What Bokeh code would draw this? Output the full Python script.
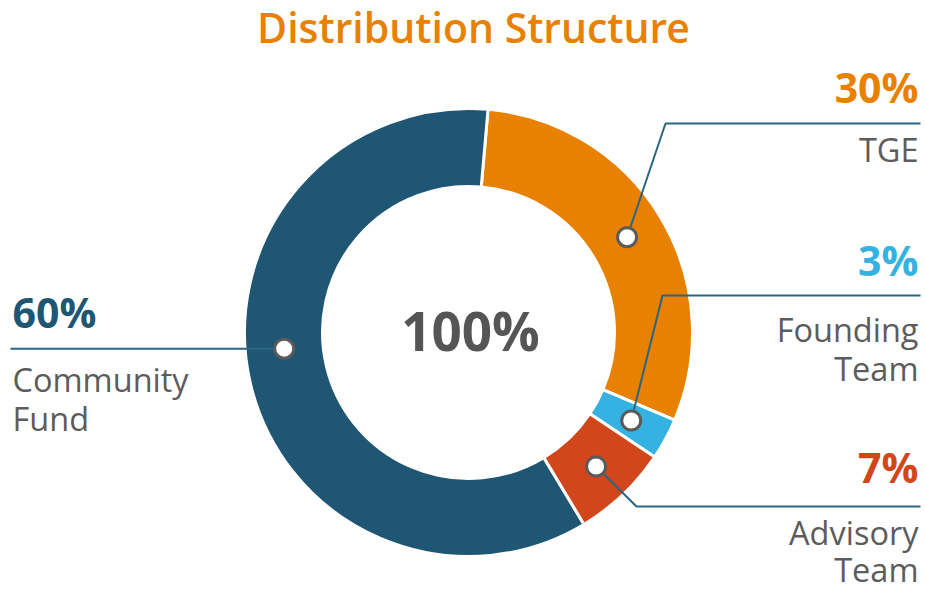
import math
from bokeh.plotting import figure
from bokeh.models import Range1d
from bokeh.core.properties import value
from bokeh.embed import file_html
from bokeh.resources import INLINE

# ---- data ----
categories = ["TGE", "Founding Team", "Advisory Team", "Community Fund"]
shares = [30, 3, 7, 60]
pct_labels = ["30%", "3%", "7%", "60%"]
name_lines = [["TGE"], ["Founding", "Team"], ["Advisory", "Team"], ["Community", "Fund"]]
colors = ["#e88000", "#35b2e1", "#d1461a", "#1f5673"]
center_label = "100%"
title_text = "Distribution Structure"

W, H = 925, 593
FONT = value("Open Sans")
SEMI = value("'Open Sans SemiBold', 'Open Sans'")
GRAY = "#5c5c5c"
LINE = "#2b6580"
BASE_FIX = 0.4  # baseline correction (fraction of font size)


def X(px):
    return px


def Y(py):
    return H - py


def TY(py, size):
    return H - (py - BASE_FIX * size)


p = figure(width=W, height=H, output_backend="svg", toolbar_location=None,
           x_range=Range1d(0, W), y_range=Range1d(0, H), min_border=0)
p.axis.visible = False
p.grid.visible = False
p.outline_line_color = None
p.background_fill_color = "white"

cx, cy = X(468), Y(332)
r_out, r_in = 224, 146
start_offset = 5.0  # degrees clockwise from 12 o'clock

total = sum(shares)
acc = start_offset
starts, ends = [], []
for s in shares:
    a0 = acc
    a1 = acc + s / total * 360.0
    starts.append(math.radians(90 - a0))
    ends.append(math.radians(90 - a1))
    acc = a1

p.annular_wedge(x=cx, y=cy, inner_radius=r_in, outer_radius=r_out,
                start_angle=starts, end_angle=ends, direction="clock",
                fill_color=colors, line_color="white", line_width=3)

# anchor position within each slice for the marker dot
anchor_frac = [0.5, 0.5, 0.5, 0.537]
r_dot = (r_in + r_out) / 2
dots_x, dots_y = [], []
for a0, a1, f in zip(starts, ends, anchor_frac):
    a = a0 + (a1 - a0) * f
    dots_x.append(cx + r_dot * math.cos(a))
    dots_y.append(cy + r_dot * math.sin(a))

# leader lines: elbow and end (page px)
elbows = [(665, 123), (662, 295), (636, 506), (None, 349)]
ends_x = [920, 920, 920, 10]
for (dx, dy), (ex, ey), endx in zip(zip(dots_x, dots_y), elbows, ends_x):
    if ex is None:
        xs = [dx, X(endx)]
        ys = [dy, dy]
    else:
        xs = [dx, X(ex), X(endx)]
        ys = [dy, Y(ey), Y(ey)]
    p.line(xs, ys, line_color=LINE, line_width=2)

p.scatter(dots_x, dots_y, size=19, fill_color="white", line_color="#5a5a5a",
          line_width=3)

PCT_SIZE, NAME_SIZE = 41, 32.5
# labels: (anchor x, pct baseline, first name baseline, line gap, align)
label_pos = [(918, 103, 162, 39, "right"), (918, 276, 342, 39, "right"),
             (918, 483, 545, 37, "right"), (12, 328, 392, 39, "left")]
for i, (lx, py_pct, py_name, gap, align) in enumerate(label_pos):
    p.text(x=[X(lx)], y=[TY(py_pct, PCT_SIZE)], text=[pct_labels[i]], text_font=FONT,
           text_font_style="bold", text_font_size=f"{PCT_SIZE}px", text_color=colors[i],
           text_align=align, text_baseline="alphabetic")
    for j, line in enumerate(name_lines[i]):
        p.text(x=[X(lx)], y=[TY(py_name + gap * j, NAME_SIZE)], text=[line], text_font=FONT,
               text_font_size=f"{NAME_SIZE}px", text_color=GRAY, text_align=align,
               text_baseline="alphabetic")

p.text(x=[cx + 2], y=[TY(351, 53)], text=[center_label], text_font=FONT,
       text_font_style="bold", text_font_size="53px", text_color="#555555",
       text_align="center", text_baseline="alphabetic")

p.text(x=[X(473)], y=[TY(43, 41)], text=[title_text], text_font=SEMI,
       text_font_size="41px", text_color="#e88000",
       text_align="center", text_baseline="alphabetic")

open("out.html", "w").write(file_html(p, INLINE))
